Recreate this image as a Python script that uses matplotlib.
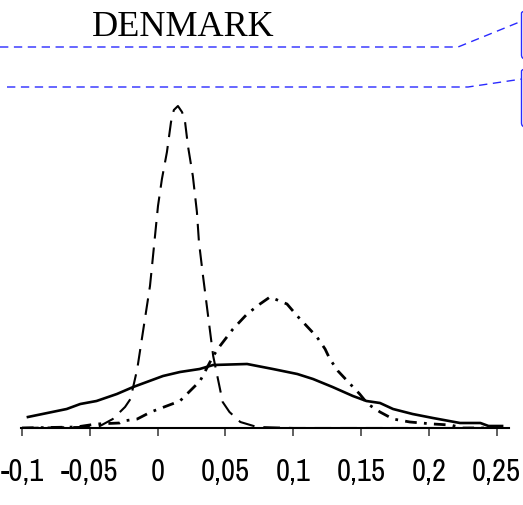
import matplotlib
matplotlib.use("Agg")
import matplotlib.pyplot as plt
from matplotlib.patches import FancyBboxPatch
from matplotlib.lines import Line2D

# Kernel density estimates (arbitrary density units)
x_dash = [-0.1, -0.055, -0.0425, -0.033, -0.024, -0.020, -0.015, -0.0056, -0.0041, -0.0019,
          0.0003, 0.0032, 0.0069, 0.0099, 0.012, 0.015, 0.018, 0.020, 0.0224, 0.026,
          0.029, 0.0305, 0.0335, 0.041, 0.048, 0.053, 0.061, 0.0733, 0.1, 0.2, 0.254]
y_dash = [0.0, 0.1, 0.2, 0.9, 2.1, 2.9, 5.9, 14.2, 16.2, 19.2,
          22.2, 24.9, 27.6, 30.6, 31.8, 32.2, 31.6, 30.9, 28.2, 25.2,
          21.6, 18.6, 15.2, 7.2, 2.6, 1.6, 0.6, 0.1, 0.0, 0.0, 0.0]

x_dot = [-0.1, -0.06, -0.045, -0.028, -0.0256, -0.015, -0.005, 0.0165, 0.0313, 0.041,
         0.046, 0.0556, 0.066, 0.0755, 0.0829, 0.0954, 0.103, 0.112, 0.1175, 0.1235,
         0.127, 0.133, 0.142, 0.149, 0.155, 0.164, 0.1736, 0.186, 0.203, 0.216,
         0.225, 0.254]
y_dot = [0.0, 0.1, 0.4, 0.5, 0.7, 0.9, 1.6, 2.7, 4.7, 7.2,
         8.2, 9.9, 11.4, 12.4, 13.1, 12.4, 11.2, 9.9, 9.1, 7.9,
         6.9, 5.7, 4.4, 3.4, 2.4, 1.6, 0.9, 0.6, 0.4, 0.3,
         0.0, 0.0]

x_solid = [-0.0956, -0.067, -0.057, -0.045, -0.030, -0.018, 0.004, 0.0165, 0.031, 0.041,
           0.066, 0.085, 0.103, 0.1146, 0.129, 0.144, 0.154, 0.164, 0.1736, 0.188,
           0.203, 0.223, 0.238, 0.244, 0.254]
y_solid = [1.1, 1.9, 2.4, 2.7, 3.4, 4.1, 5.2, 5.6, 5.9, 6.3,
           6.4, 5.9, 5.4, 4.9, 4.1, 3.2, 2.7, 2.5, 1.9, 1.4,
           1.0, 0.5, 0.5, 0.2, 0.2]

xticks = [-0.1, -0.05, 0, 0.05, 0.1, 0.15, 0.2, 0.25]
xtick_labels = ["-0,1", "-0,05", "0", "0,05", "0,1", "0,15", "0,2", "0,25"]
title = "DENMARK"

W, H = 523, 506
fig = plt.figure(figsize=(W / 100, H / 100), dpi=100)

ax_left, ax_right = 21 / W, 509 / W
ax_bottom, ax_top = 1 - 429 / H, 1 - 95 / H
ax = fig.add_axes([ax_left, ax_bottom, ax_right - ax_left, ax_top - ax_bottom])
ax.set_xlim(-0.1007, 0.2591)
ax.set_ylim(0, 33.4)

ax.plot(x_solid, y_solid, color="black", lw=1.9, solid_joinstyle="round", zorder=3)
ax.plot(x_dash, y_dash, color="black", lw=1.5, dashes=(8, 4.3), zorder=3)
ax.plot(x_dot, y_dot, color="black", lw=2.0, dashes=(4.2, 2.6, 1.0, 2.6), zorder=3)

for s in ["left", "right", "top"]:
    ax.spines[s].set_visible(False)
ax.spines["bottom"].set_linewidth(1.5)
ax.set_yticks([])
ax.set_xticks(xticks)
ax.set_xticklabels(xtick_labels, family=["Archivo Narrow", "PT Sans Narrow", "DejaVu Sans"],
                   fontsize=22)
ax.tick_params(axis="x", direction="out", length=6, width=1.2, pad=15, color="#444444")

fig.text(183 / W, 1 - 28 / H, title, family=["Liberation Serif", "DejaVu Serif"],
         fontsize=26, ha="center", va="center")

# Comment callout leaders and balloons along the right edge
blue = "#2a2aff"
fig.add_artist(Line2D([0 / W, 458 / W, 522 / W], [1 - 48 / H, 1 - 48 / H, 1 - 22 / H],
                      color=blue, lw=1.0, dashes=(6, 4), transform=fig.transFigure))
fig.add_artist(Line2D([7 / W, 468 / W, 522 / W], [1 - 88 / H, 1 - 88 / H, 1 - 80 / H],
                      color=blue, lw=1.0, dashes=(6, 4), transform=fig.transFigure))
for y0, y1 in [(10, 60), (68, 128)]:
    box = FancyBboxPatch((521.5 / W, 1 - y1 / H), 40 / W, (y1 - y0) / H,
                         boxstyle="round,pad=0,rounding_size=0.008",
                         transform=fig.transFigure, fill=False, ec=blue, lw=1.0)
    fig.add_artist(box)

fig.savefig("out.png", dpi=100)
